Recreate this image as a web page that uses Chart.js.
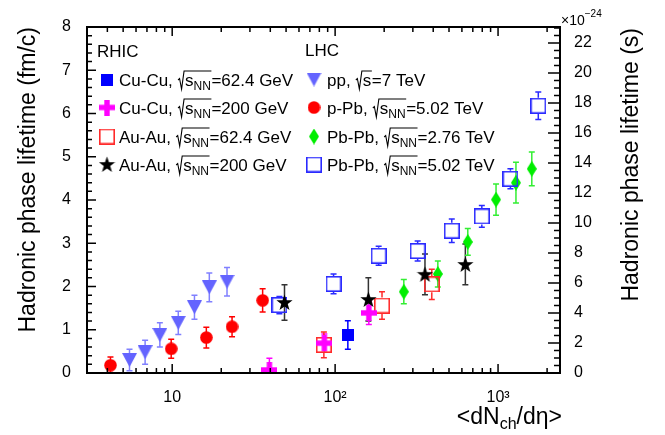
<!DOCTYPE html>
<html lang="en">
<head>
    <meta charset="UTF-8">
    <title>Hadronic phase lifetime</title>
    <script src="https://cdn.jsdelivr.net/npm/chart.js"></script>
    <style>
        body { margin: 0; background: #fff; }
        #wrap { width: 665px; height: 435px; }
    </style>
</head>
<body>
<div id="wrap"><canvas id="grafico" width="665" height="435"></canvas></div>
<script>
    // values: x = <dNch/deta>, y = lifetime (fm/c), e = error
    const ppX = [5.47, 6.82, 8.4, 10.9, 13.7, 16.9, 21.7];
    const ppY = [0.30, 0.48, 0.88, 1.16, 1.52, 1.98, 2.11];
    const ppE = [0.25, 0.28, 0.28, 0.27, 0.28, 0.33, 0.33];

    const pPbX = [4.18, 9.86, 16.2, 23.3, 35.9];
    const pPbY = [0.18, 0.56, 0.82, 1.07, 1.68];
    const pPbE = [0.19, 0.22, 0.24, 0.23, 0.27];

    const pbpb276X = [264, 427, 652, 972, 1288, 1611];
    const pbpb276Y = [1.88, 2.29, 3.03, 4.01, 4.40, 4.72];
    const pbpb276E = [0.28, 0.30, 0.31, 0.36, 0.47, 0.39];

    const pbpb502X = [45.5, 97.8, 185, 321, 520, 795, 1191, 1766];
    const pbpb502Y = [1.57, 2.06, 2.71, 2.82, 3.29, 3.62, 4.49, 6.18];
    const pbpb502E = [0.20, 0.23, 0.22, 0.23, 0.27, 0.25, 0.23, 0.32];

    const cucu62X = [119.7];
    const cucu62Y = [0.88];
    const cucu62E = [0.33];

    const cucu200X = [39.5, 85.9, 161];
    const cucu200Y = [0.07, 0.69, 1.39];
    const cucu200E = [0.27, 0.21, 0.27];

    const auau62X = [85.3, 194, 392];
    const auau62Y = [0.65, 1.56, 2.05];
    const auau62E = [0.30, 0.32, 0.35];

    const auau200X = [48.9, 160, 356, 630];
    const auau200Y = [1.63, 1.70, 2.28, 2.51];
    const auau200E = [0.41, 0.50, 0.47, 0.47];

    const xTickVals = [10, 100, 1000];
    const xTickLabels = ['10', '10²', '10³'];
    const y2TickVals = [0, 2, 4, 6, 8, 10, 12, 14, 16, 18, 20, 22];
    const y2Max = 23.07; // 8 fm/c on the right (s) axis, x10^-24

    const fonte = '"Liberation Sans", Arial, sans-serif';

    // marcadores desenhados num canvas pequeno
    function marcador(w, h, desenho) {
        const c = document.createElement('canvas');
        c.width = w; c.height = h;
        desenho(c.getContext('2d'), w, h);
        return c;
    }
    const mkTri = marcador(15, 14, (g) => {
        g.fillStyle = '#6464ff';
        g.beginPath(); g.moveTo(0, 0); g.lineTo(15, 0); g.lineTo(7.5, 14); g.closePath(); g.fill();
    });
    const mkCirc = marcador(13, 13, (g) => {
        g.fillStyle = '#ff0000';
        g.beginPath(); g.arc(6.5, 6.5, 6.3, 0, Math.PI * 2); g.fill();
    });
    const mkDiam = marcador(10, 16, (g) => {
        g.fillStyle = '#00ee00';
        g.beginPath(); g.moveTo(5, 0); g.lineTo(10, 8); g.lineTo(5, 16); g.lineTo(0, 8); g.closePath(); g.fill();
    });
    const mkSqBlue = marcador(16, 16, (g) => {
        g.strokeStyle = '#2a2aff'; g.lineWidth = 1.6;
        g.strokeRect(0.8, 0.8, 14.4, 14.4);
    });
    const mkSqRed = marcador(16, 16, (g) => {
        g.strokeStyle = '#ff2a2a'; g.lineWidth = 1.6;
        g.strokeRect(0.8, 0.8, 14.4, 14.4);
    });
    const mkSqFull = marcador(12, 12, (g) => {
        g.fillStyle = '#0000ff'; g.fillRect(0, 0, 12, 12);
    });
    const mkCross = marcador(16, 16, (g) => {
        g.fillStyle = '#ff00ff';
        g.fillRect(5.3, 0, 5.4, 16); g.fillRect(0, 5.3, 16, 5.4);
    });
    const mkStar = marcador(17, 17, (g) => {
        g.fillStyle = '#000';
        g.beginPath();
        for (let i = 0; i < 10; i++) {
            const r = i % 2 === 0 ? 8.5 : 3.4;
            const a = -Math.PI / 2 + i * Math.PI / 5;
            const px = 8.5 + r * Math.cos(a), py = 9 + r * Math.sin(a);
            if (i === 0) g.moveTo(px, py); else g.lineTo(px, py);
        }
        g.closePath(); g.fill();
    });

    // primeiro da lista fica por cima
    const series = [
        { x: auau200X, y: auau200Y, e: auau200E, mk: mkStar, cor: '#333333', gap: 0 },
        { x: cucu200X, y: cucu200Y, e: cucu200E, mk: mkCross, cor: '#ff00ff', gap: 0 },
        { x: cucu62X, y: cucu62Y, e: cucu62E, mk: mkSqFull, cor: '#0000ff', gap: 0 },
        { x: auau62X, y: auau62Y, e: auau62E, mk: mkSqRed, cor: '#ff2a2a', gap: 8 },
        { x: pbpb502X, y: pbpb502Y, e: pbpb502E, mk: mkSqBlue, cor: '#2a2aff', gap: 8 },
        { x: pbpb276X, y: pbpb276Y, e: pbpb276E, mk: mkDiam, cor: '#33ee33', gap: 0 },
        { x: pPbX, y: pPbY, e: pPbE, mk: mkCirc, cor: '#ff0000', gap: 0 },
        { x: ppX, y: ppY, e: ppE, mk: mkTri, cor: '#8080ff', gap: 0 }
    ];

    function subText(g, x, y, main, sub, big, small) {
        g.font = big + 'px ' + fonte;
        g.fillText(main, x, y);
        x += g.measureText(main).width;
        g.font = small + 'px ' + fonte;
        g.fillText(sub, x, y + 5);
        return x + g.measureText(sub).width;
    }

    // texto com raiz: prefixo, sqrt(s_sub), sufixo
    function rotuloRaiz(g, x, y, prefixo, sub, sufixo) {
        g.font = '17px ' + fonte;
        g.fillText(prefixo, x, y);
        x += g.measureText(prefixo).width;
        const x0 = x;
        x += 7.5;
        g.fillText('s', x, y);
        x += g.measureText('s').width;
        if (sub) {
            g.font = '12px ' + fonte;
            g.fillText(sub, x, y + 4);
            x += g.measureText(sub).width;
        }
        g.lineWidth = 1.1;
        g.beginPath();
        g.moveTo(x0 + 0.5, y - 6); g.lineTo(x0 + 2, y - 7.5); g.lineTo(x0 + 4, y + 3);
        g.lineTo(x0 + 6.5, y - 15); g.lineTo(x + 0.5, y - 15);
        g.stroke();
        g.font = '17px ' + fonte;
        g.fillText(sufixo, x + 0.5, y);
    }

    const errosPlugin = {
        id: 'barrasErro',
        beforeDatasetsDraw(chart) {
            const g = chart.ctx, a = chart.chartArea, ys = chart.scales.y;
            g.save();
            g.beginPath(); g.rect(a.left, a.top, a.width, a.height); g.clip();
            g.lineWidth = 1.5;
            series.forEach((s, k) => {
                const meta = chart.getDatasetMeta(k);
                g.strokeStyle = s.cor;
                meta.data.forEach((p, i) => {
                    const top = ys.getPixelForValue(s.y[i] + s.e[i]);
                    const bot = ys.getPixelForValue(s.y[i] - s.e[i]);
                    g.beginPath();
                    g.moveTo(p.x, top); g.lineTo(p.x, p.y - s.gap);
                    g.moveTo(p.x, p.y + s.gap); g.lineTo(p.x, bot);
                    g.moveTo(p.x - 3, top); g.lineTo(p.x + 3, top);
                    g.moveTo(p.x - 3, bot); g.lineTo(p.x + 3, bot);
                    g.stroke();
                });
            });
            g.restore();
        },
        afterDraw(chart) {
            const g = chart.ctx, a = chart.chartArea;
            const xs = chart.scales.x, ys = chart.scales.y, y2 = chart.scales.y2;
            g.save();
            g.strokeStyle = '#000'; g.fillStyle = '#000';
            g.lineWidth = 2;
            g.strokeRect(a.left, a.top, a.width, a.height);
            // ticks para dentro, estilo ROOT
            g.lineWidth = 1.5;
            g.beginPath();
            for (let d = 1; d <= 1000; d *= 10) {
                for (let m = 1; m <= 9; m++) {
                    const v = d * m;
                    if (v < 3 || v > 2400) continue;
                    const px = xs.getPixelForValue(v);
                    const len = m === 1 ? 9 : 5;
                    g.moveTo(px, a.bottom); g.lineTo(px, a.bottom - len);
                    g.moveTo(px, a.top); g.lineTo(px, a.top + len);
                }
            }
            for (let i = 0; i <= 40; i++) {
                const py = ys.getPixelForValue(i * 0.2);
                const len = i % 5 === 0 ? 9 : 5;
                g.moveTo(a.left, py); g.lineTo(a.left + len, py);
            }
            for (let i = 0; i * 0.5 <= y2Max; i++) {
                const py = y2.getPixelForValue(i * 0.5);
                const len = i % 4 === 0 ? 12 : 6;
                g.moveTo(a.right, py); g.lineTo(a.right - len, py);
            }
            g.stroke();

            // titulos dos eixos
            g.font = '23px ' + fonte;
            g.textAlign = 'right';
            g.save(); g.translate(35, 27); g.rotate(-Math.PI / 2);
            g.fillText('Hadronic phase lifetime (fm/c)', 0, 0); g.restore();
            g.save(); g.translate(638, 28); g.rotate(-Math.PI / 2);
            g.fillText('Hadronic phase lifetime (s)', 0, 0); g.restore();
            g.textAlign = 'left';

            g.font = '23px ' + fonte;
            const w1 = g.measureText('<dN').width, w3 = g.measureText('/dη>').width;
            g.font = '16px ' + fonte;
            const w2 = g.measureText('ch').width;
            let xt = 562 - (w1 + w2 + w3);
            xt = subText(g, xt, 424, '<dN', 'ch', 23, 16);
            g.font = '23px ' + fonte;
            g.fillText('/dη>', xt, 424);

            g.font = '14px ' + fonte;
            g.fillText('×10', 561, 25);
            const wx = g.measureText('×10').width;
            g.font = '10px ' + fonte;
            g.fillText('−24', 561 + wx, 17);

            // legenda
            g.font = '17px ' + fonte;
            g.fillText('RHIC', 97, 57);
            g.fillText('LHC', 305, 56);
            const rhic = [
                [mkSqFull, 'Cu-Cu, ', 'NN', '=62.4 GeV'],
                [mkCross, 'Cu-Cu, ', 'NN', '=200 GeV'],
                [mkSqRed, 'Au-Au, ', 'NN', '=62.4 GeV'],
                [mkStar, 'Au-Au, ', 'NN', '=200 GeV']
            ];
            const lhc = [
                [mkTri, 'pp, ', '', '=7 TeV'],
                [mkCirc, 'p-Pb, ', 'NN', '=5.02 TeV'],
                [mkDiam, 'Pb-Pb, ', 'NN', '=2.76 TeV'],
                [mkSqBlue, 'Pb-Pb, ', 'NN', '=5.02 TeV']
            ];
            const linhas = [86, 114, 143, 171];
            rhic.forEach((r, i) => {
                const yb = linhas[i];
                g.drawImage(r[0], 107 - r[0].width / 2, yb - 6.5 - r[0].height / 2);
                rotuloRaiz(g, 119, yb, r[1], r[2], r[3]);
            });
            lhc.forEach((r, i) => {
                const yb = linhas[i];
                g.drawImage(r[0], 314 - r[0].width / 2, yb - 6.5 - r[0].height / 2);
                rotuloRaiz(g, 327, yb, r[1], r[2], r[3]);
            });
            g.restore();
        }
    };

    new Chart(document.getElementById('grafico'), {
        type: 'scatter',
        data: {
            datasets: series.map(s => ({
                data: s.x.map((v, i) => ({ x: v, y: s.y[i] })),
                pointStyle: s.mk,
                pointRadius: 8,
                pointHoverRadius: 8,
                yAxisID: 'y'
            }))
        },
        options: {
            responsive: false,
            animation: false,
            events: [],
            layout: { padding: { top: 27, left: 0, right: 0, bottom: 0 } },
            plugins: { legend: { display: false }, tooltip: { enabled: false } },
            scales: {
                x: {
                    type: 'logarithmic',
                    min: 3,
                    max: 2400,
                    grid: { display: false },
                    border: { display: false },
                    afterBuildTicks: s => { s.ticks = xTickVals.map(v => ({ value: v, major: true })); },
                    afterFit: s => { s.height = 62; },
                    ticks: {
                        callback: v => xTickLabels[xTickVals.indexOf(v)],
                        autoSkip: false, maxRotation: 0, padding: 7,
                        color: '#000', font: { size: 16, family: fonte }
                    }
                },
                y: {
                    min: 0,
                    max: 8,
                    grid: { display: false },
                    border: { display: false },
                    afterFit: s => { s.width = 87; },
                    ticks: { stepSize: 1, padding: 8, color: '#000', font: { size: 16, family: fonte } }
                },
                y2: {
                    position: 'right',
                    min: 0,
                    max: y2Max,
                    grid: { display: false },
                    border: { display: false },
                    afterBuildTicks: s => { s.ticks = y2TickVals.map(v => ({ value: v })); },
                    afterFit: s => { s.width = 105; },
                    ticks: { padding: 6, color: '#000', font: { size: 16, family: fonte } }
                }
            }
        },
        plugins: [errosPlugin]
    });
</script>
</body>
</html>
